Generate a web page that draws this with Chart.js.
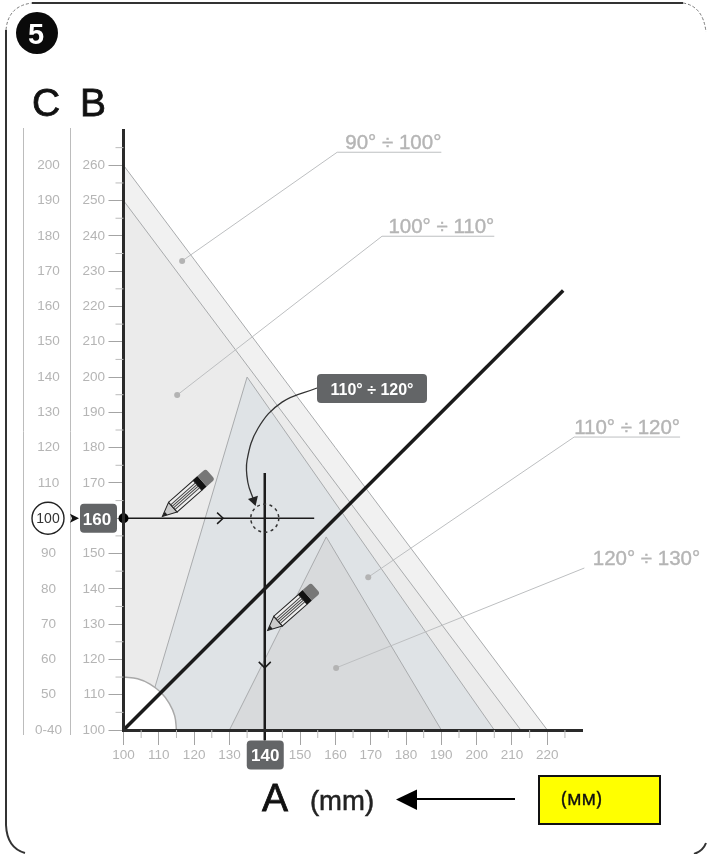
<!DOCTYPE html>
<html lang="en">
<head>
    <meta charset="UTF-8">
    <title>Chart 5</title>
    <script src="https://cdn.jsdelivr.net/npm/chart.js"></script>
    <style>
        body { margin: 0; background: #fff; }
        canvas { display: block; }
    </style>
</head>
<body>
    <canvas id="chart" width="707" height="854"></canvas>

    <script>
        // Axis values
        const aTicks = [100, 110, 120, 130, 140, 150, 160, 170, 180, 190, 200, 210, 220];
        const aMinorTicks = [105, 115, 125, 135, 145, 155, 165, 175, 185, 195, 205, 215, 225];
        const bTicks = [100, 110, 120, 130, 140, 150, 160, 170, 180, 190, 200, 210, 220, 230, 240, 250, 260];
        const bMinorTicks = [105, 115, 125, 135, 145, 155, 165, 175, 185, 195, 205, 215, 225, 235, 245, 255, 265];
        const cTicks = [40, 50, 60, 70, 80, 90, 100, 110, 120, 130, 140, 150, 160, 170, 180, 190, 200];
        const pickedA = 140;
        const pickedB = 160;
        const pickedC = 100;

        // Regions, as [A, B] pairs
        const band90 = [[100, 260], [220, 100]];
        const band100 = [[100, 250], [212.5, 100]];
        const band110 = [[105.3, 100], [135, 200], [205, 100]];
        const band120 = [[130, 100], [157.4, 154.7], [190, 100]];
        const cornerArc = [[100, 115], [104, 114.5], [107.5, 113], [110.6, 110.6], [113, 107.5], [114.5, 104], [115, 100]];

        // Guide lines
        const diagonal = [[100, 100], [224.5, 224.5]];
        const readB = [[100, 160], [154, 160]];
        const readA = [[140, 97], [140, 172.8]];
        const chevronB = [[126.5, 161.6], [128.2, 160], [126.5, 158.4]];
        const chevronA = [[138.3, 119.3], [140, 117.6], [141.7, 119.3]];
        const curveArrow = [[154.8, 196.9], [144.9, 192.9], [138.1, 185.5], [135, 176.5], [135.2, 170.2], [136.9, 165.1]];

        // Range labels and their leader lines
        const rangeLabels = ['90° ÷ 100°', '100° ÷ 110°', '110° ÷ 120°', '120° ÷ 130°'];
        const leader90 = [[116.6, 232.9], [160.5, 263.7], [190, 263.7]];
        const leader100 = [[115.2, 194.9], [173.2, 239.9], [205, 239.9]];
        const leader110 = [[169.3, 143.3], [227.6, 183], [257.6, 183]];
        const leader120 = [[160.2, 117.6], [230.5, 145.9], [263.3, 145.9]];
        const pencilTips = [[111, 160.5], [140.8, 128.2]];
        const boxLabel = '110° ÷ 120°';

        const GREY_LINE = '#a9abad';
        const GREY_TEXT = '#b5b5b5';
        const DARK = '#1b1b1b';
        const BOX = '#636567';
        const FONT = '"Liberation Sans", Arial, sans-serif';

        const toPoints = list => list.map(p => ({ x: p[0], y: p[1] }));

        function region(points, fillColor) {
            return { data: toPoints(points), yAxisID: 'b', showLine: true, fill: 'origin', backgroundColor: fillColor,
                borderColor: GREY_LINE, borderWidth: 1, pointRadius: 0, tension: 0 };
        }
        function guide(points, width, extra) {
            return Object.assign({ data: toPoints(points), yAxisID: 'b', showLine: true, fill: false, borderColor: DARK,
                borderWidth: width, pointRadius: 0, tension: 0, clip: false }, extra);
        }
        function leader(points) {
            return guide(points, 1, { borderColor: '#bdbfc1', pointRadius: [3, 0, 0],
                pointBackgroundColor: '#b3b3b3', pointBorderWidth: 0 });
        }

        // Listed bottom to top
        const layers = [
            region(band90, '#f1f1f1'),
            region(band100, '#ebebeb'),
            region(band110, '#dfe3e6'),
            region(band120, '#d8dadc'),
            Object.assign(region(cornerArc, '#ffffff'), { borderColor: '#a9a9a9', borderWidth: 1.5, tension: 0.4 }),
            leader(leader90),
            leader(leader100),
            leader(leader110),
            leader(leader120),
            guide(diagonal, 3.5),
            guide(readB, 1.5, { pointRadius: [5, 0], pointBackgroundColor: '#000', pointBorderWidth: 0 }),
            guide(readA, 2.5),
            guide(chevronB, 1.5),
            guide(chevronA, 1.5),
            guide(curveArrow, 1.3, { borderColor: '#333', tension: 0.4, pointRadius: [0, 0, 0, 0, 0, 6],
                pointStyle: 'triangle', pointRotation: 163, pointBackgroundColor: '#222', pointBorderWidth: 0 })
        ];
        layers.forEach((d, i) => { d.order = -i; });

        function roundBox(ctx, x, y, w, h, r, fill) {
            ctx.beginPath();
            ctx.roundRect(x, y, w, h, r);
            ctx.fillStyle = fill;
            ctx.fill();
        }
        function label(ctx, text, x, y, font, color, align, weight) {
            ctx.font = font;
            ctx.fillStyle = color;
            ctx.textAlign = align || 'center';
            ctx.textBaseline = 'alphabetic';
            ctx.fillText(text, x, y);
            if (weight) {
                // thicken the regular face a little
                ctx.strokeStyle = color;
                ctx.lineWidth = weight;
                ctx.strokeText(text, x, y);
            }
        }

        function drawPencil(ctx, x, y) {
            ctx.save();
            ctx.translate(x, y);
            ctx.rotate(-41.5 * Math.PI / 180);
            ctx.lineWidth = 1;
            ctx.strokeStyle = '#222';
            // point
            ctx.beginPath();
            ctx.moveTo(0, 0); ctx.lineTo(14, -6.5); ctx.lineTo(14, 6.5); ctx.closePath();
            ctx.fillStyle = '#cbcbcb'; ctx.fill(); ctx.stroke();
            ctx.beginPath();
            ctx.moveTo(0, 0); ctx.lineTo(5, -2); ctx.lineTo(5, 2); ctx.closePath();
            ctx.fillStyle = '#222'; ctx.fill();
            // body
            ctx.fillStyle = '#eee';
            ctx.fillRect(14, -6.5, 33, 13);
            ctx.strokeRect(14, -6.5, 33, 13);
            ctx.strokeStyle = '#444';
            [-3.2, -1, 1, 3.2].forEach(w => { ctx.beginPath(); ctx.moveTo(14, w); ctx.lineTo(47, w); ctx.stroke(); });
            // band and eraser
            ctx.fillStyle = '#111';
            ctx.fillRect(47, -7, 6, 14);
            roundBox(ctx, 53, -7, 11, 14, [0, 3, 3, 0], '#777');
            ctx.restore();
        }

        const decorations = {
            id: 'decorations',
            beforeDatasetsDraw(chart) {
                const ctx = chart.ctx;
                ctx.save();
                // page frame
                ctx.strokeStyle = '#333';
                ctx.lineWidth = 2;
                ctx.beginPath();
                ctx.moveTo(32, 3); ctx.lineTo(683, 3);
                ctx.moveTo(6, 30); ctx.lineTo(6, 825);
                ctx.quadraticCurveTo(7, 848, 25, 853);
                ctx.stroke();
                ctx.beginPath();
                ctx.moveTo(706, 843); ctx.quadraticCurveTo(703, 851, 694, 854);
                ctx.stroke();
                ctx.strokeStyle = '#777';
                ctx.lineWidth = 1;
                ctx.setLineDash([3, 2]);
                ctx.beginPath();
                ctx.moveTo(6, 30); ctx.quadraticCurveTo(8, 6, 32, 3);
                ctx.moveTo(683, 3); ctx.quadraticCurveTo(703, 6, 706, 32);
                ctx.stroke();
                ctx.setLineDash([]);
                ctx.restore();
            },
            afterDraw(chart) {
                const ctx = chart.ctx;
                const xs = chart.scales.x, ys = chart.scales.b, cs = chart.scales.c;
                ctx.save();

                // minor ticks
                ctx.strokeStyle = '#a4a4a4';
                ctx.lineWidth = 1;
                ctx.beginPath();
                aMinorTicks.forEach(v => { const p = xs.getPixelForValue(v); ctx.moveTo(p, ys.bottom); ctx.lineTo(p, ys.bottom + 8); });
                bMinorTicks.forEach(v => { const p = ys.getPixelForValue(v); ctx.moveTo(xs.left - 8, p); ctx.lineTo(xs.left, p); });
                // rules either side of the C scale
                ctx.strokeStyle = '#bcbcbc';
                ctx.moveTo(cs.left + 23.5, ys.top - 2); ctx.lineTo(cs.left + 23.5, ys.bottom + 5);
                ctx.moveTo(cs.right - 0.5, ys.top - 2); ctx.lineTo(cs.right - 0.5, ys.bottom + 5);
                ctx.stroke();

                // dashed target circle
                const ax = xs.getPixelForValue(pickedA), by = ys.getPixelForValue(pickedB);
                ctx.strokeStyle = '#333';
                ctx.lineWidth = 1.5;
                ctx.setLineDash([3, 3.4]);
                ctx.beginPath();
                ctx.arc(ax, by, 14, 0, Math.PI * 2);
                ctx.stroke();
                ctx.setLineDash([]);

                pencilTips.forEach(p => drawPencil(ctx, xs.getPixelForValue(p[0]), ys.getPixelForValue(p[1])));

                // range labels sit right-aligned on their leader lines
                [leader90, leader100, leader110, leader120].forEach((line, i) => {
                    const end = line[line.length - 1];
                    label(ctx, rangeLabels[i], xs.getPixelForValue(end[0]), ys.getPixelForValue(end[1]) - 3,
                        '20.5px ' + FONT, GREY_TEXT, 'right', 0.4);
                });

                // picked values
                roundBox(ctx, ax - 18, ys.bottom + 10.5, 37, 29, 4, BOX);
                label(ctx, String(pickedA), ax + 0.5, ys.bottom + 31, 'bold 17px ' + FONT, '#fff');
                roundBox(ctx, 80, by - 14.5, 37, 29, 4, BOX);
                label(ctx, String(pickedB), 97, by + 6.5, 'bold 17px ' + FONT, '#fff');
                // arrow between C and B
                ctx.fillStyle = '#111';
                ctx.beginPath();
                ctx.moveTo(70, by - 4.5); ctx.lineTo(79, by); ctx.lineTo(70, by + 4.5); ctx.lineTo(72, by); ctx.closePath();
                ctx.fill();
                // circled C value
                const cy = cs.getPixelForValue(pickedC);
                ctx.strokeStyle = '#222';
                ctx.lineWidth = 1.4;
                ctx.beginPath();
                ctx.arc(48, cy, 16, 0, Math.PI * 2);
                ctx.fillStyle = '#fff';
                ctx.fill();
                ctx.stroke();
                label(ctx, String(pickedC), 48, cy + 5, '14px ' + FONT, '#333');

                // callout box
                roundBox(ctx, 317, 374, 110, 29, 4, BOX);
                label(ctx, boxLabel, 372, 394.5, 'bold 16px ' + FONT, '#fff');

                // figure number and axis letters
                ctx.beginPath();
                ctx.arc(37, 33, 21, 0, Math.PI * 2);
                ctx.fillStyle = '#0a0a0a';
                ctx.fill();
                label(ctx, '5', 36, 43.5, 'bold 29px ' + FONT, '#fff');
                label(ctx, 'C', 46, 116, '39px ' + FONT, '#111', 'center', 0.8);
                label(ctx, 'B', 93, 116, '39px ' + FONT, '#111', 'center', 0.8);
                label(ctx, 'A', 275, 811, '39px ' + FONT, '#111', 'center', 0.8);
                label(ctx, '(mm)', 342, 810, '27.5px ' + FONT, '#222', 'center', 0.5);

                // arrow and yellow note
                ctx.strokeStyle = '#000';
                ctx.lineWidth = 2;
                ctx.beginPath();
                ctx.moveTo(515, 799); ctx.lineTo(415, 799);
                ctx.stroke();
                ctx.fillStyle = '#000';
                ctx.beginPath();
                ctx.moveTo(396, 799.5); ctx.lineTo(417, 789.5); ctx.lineTo(417, 810); ctx.closePath();
                ctx.fill();
                ctx.fillStyle = '#ffff00';
                ctx.fillRect(539, 776, 121, 48);
                ctx.strokeStyle = '#111';
                ctx.strokeRect(539, 776, 121, 48);
                label(ctx, '(мм)', 581.5, 805, '19px "Noto Sans", sans-serif', '#111', 'center', 0.3);
                ctx.restore();
            }
        };

        const tickFont = { family: FONT, size: 13.5 };

        new Chart(document.getElementById('chart'), {
            type: 'scatter',
            data: { datasets: layers },
            plugins: [decorations],
            options: {
                responsive: false,
                animation: false,
                events: [],
                layout: { padding: { top: 130, right: 124.4, left: 0, bottom: 0 } },
                plugins: { legend: { display: false }, tooltip: { enabled: false } },
                scales: {
                    x: {
                        type: 'linear',
                        min: 100,
                        max: 230,
                        afterBuildTicks: s => { s.ticks = aTicks.map(v => ({ value: v })); },
                        afterFit: s => { s.height = 124; },
                        border: { color: '#2a2a2a', width: 3, z: 1 },
                        grid: { drawOnChartArea: false, tickLength: 15, tickColor: '#a4a4a4', tickWidth: 1 },
                        ticks: { color: GREY_TEXT, font: tickFont, padding: 2, maxRotation: 0,
                            callback: v => (v === pickedA ? '' : String(v)) }
                    },
                    b: {
                        type: 'linear',
                        position: 'left',
                        weight: 0,
                        min: 100,
                        max: 270,
                        afterBuildTicks: s => { s.ticks = bTicks.map(v => ({ value: v })); },
                        afterFit: s => { s.width = 52.5; },
                        border: { color: '#2a2a2a', width: 3, z: 1 },
                        grid: { drawOnChartArea: false, tickLength: 15, tickColor: '#a4a4a4', tickWidth: 1 },
                        ticks: { color: GREY_TEXT, font: tickFont, padding: 3.5,
                            callback: v => (v === pickedB ? '' : String(v)) }
                    },
                    c: {
                        type: 'linear',
                        position: 'left',
                        weight: 1,
                        min: 40,
                        max: 210,
                        afterBuildTicks: s => { s.ticks = cTicks.map(v => ({ value: v })); },
                        afterFit: s => { s.width = 71; },
                        border: { display: false },
                        grid: { display: false, drawTicks: false },
                        ticks: { color: GREY_TEXT, font: tickFont, padding: 9, crossAlign: 'center',
                            callback: v => (v === 40 ? '0-40' : v === pickedC ? '' : String(v)) }
                    }
                }
            }
        });
    </script>
</body>
</html>
